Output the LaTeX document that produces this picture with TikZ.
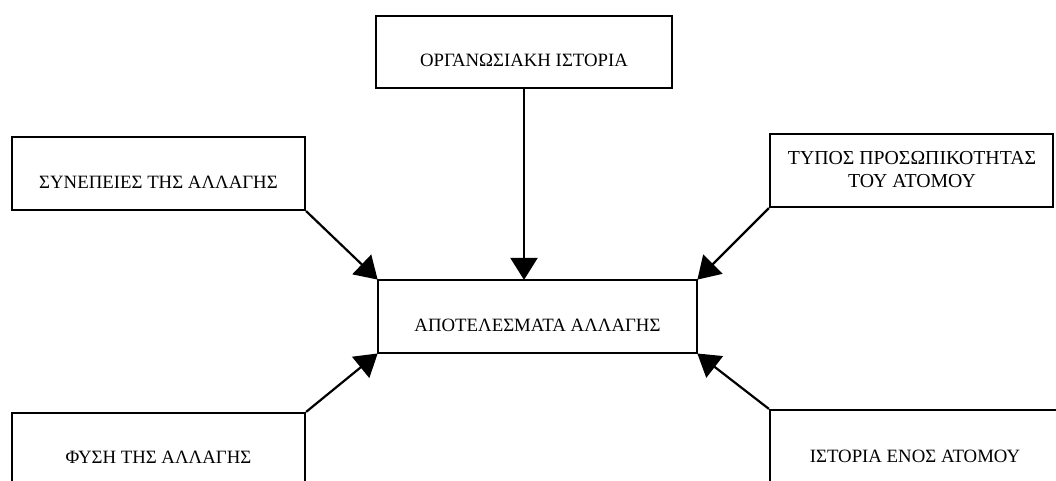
\documentclass[tikz,border=0pt]{standalone}
\usepackage{fontspec}
\setmainfont{Liberation Serif}
\usetikzlibrary{arrows.meta}
\begin{document}
\begin{tikzpicture}[x=1pt,y=-1pt,
  box/.style={draw, line width=2.2pt, inner sep=0pt, align=center,
    text height=29pt, text depth=0pt,
    font=\fontsize{18.8}{20}\selectfont},
  frame/.style={draw, line width=2.2pt, inner sep=0pt},
  lbl/.style={anchor=base, inner sep=0pt, font=\fontsize{19.8}{20}\selectfont},
  link/.style={line width=2.2pt, -{Triangle[length=22pt,width=27pt]}, shorten >=-1pt}]
\useasboundingbox (0,0) rectangle (1056,480);
\clip (0,0) rectangle (1056,480);
% boxes
\node[box, minimum width=296pt, minimum height=72pt] (hist) at (524,52) {ΟΡΓΑΝΩΣΙΑΚΗ ΙΣΤΟΡΙΑ};
\node[box, minimum width=293pt, minimum height=73pt] (cons) at (158.5,173.5) {ΣΥΝΕΠΕΙΕΣ ΤΗΣ ΑΛΛΑΓΗΣ};
\node[frame, minimum width=283pt, minimum height=73pt] (pers) at (911.5,170.5) {};
\node[lbl] (pers1) at (912,164) {ΤΥΠΟΣ ΠΡΟΣΩΠΙΚΟΤΗΤΑΣ};
\node[lbl] (pers2) at (912,187) {ΤΟΥ ΑΤΟΜΟΥ};
\node[box, minimum width=319pt, minimum height=73pt] (res) at (537.5,316.5) {ΑΠΟΤΕΛΕΣΜΑΤΑ ΑΛΛΑΓΗΣ};
\node[box, minimum width=293pt, minimum height=71pt] (nat) at (158.5,448.5) {ΦΥΣΗ ΤΗΣ ΑΛΛΑΓΗΣ};
\node[box, minimum width=290pt, minimum height=75pt] (ind) at (915,447.5) {ΙΣΤΟΡΙΑ ΕΝΟΣ ΑΤΟΜΟΥ};
% arrows into the central box
\draw[link] (hist.south) -- (hist.south |- res.north);
\draw[link] (cons.south east) -- (res.north west);
\draw[link] (pers.south west) -- (res.north east);
\draw[link] (nat.north east) -- (res.south west);
\draw[link] (ind.north west) -- (res.south east);
\end{tikzpicture}
\end{document}
